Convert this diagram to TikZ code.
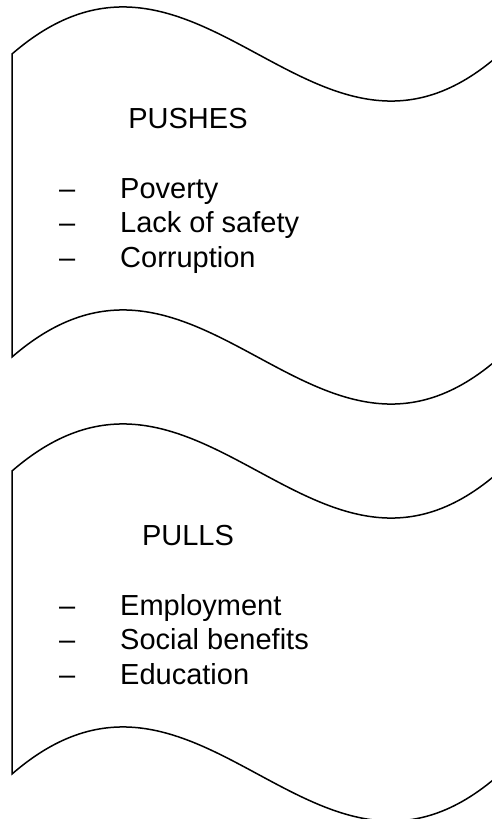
\documentclass[tikz,border=0pt]{standalone}
\usepackage{fontspec}
\setmainfont{Liberation Sans}
\usepackage{tikz}

\begin{document}
\begin{tikzpicture}[x=1pt,y=-1pt,
  banner/.style={line width=1.5pt,line join=miter},
  heading/.style={font=\fontsize{29}{34}\selectfont,anchor=base,inner sep=0pt},
  listitem/.style={font=\fontsize{29}{34}\selectfont,anchor=base west,inner sep=0pt}]
\useasboundingbox (0,0) rectangle (492,819);
\clip (0,0) rectangle (492,819);
% upper banner
\draw [banner] (12,54) .. controls (200,-109) and (316,217) .. (500,54) -- (500,357)
  .. controls (316,520) and (200,194) .. (12,357) -- cycle;
\node [heading] (pushes) at (188,128) {PUSHES};
\node [listitem] (poverty)    at (59,198.5) {\makebox[61pt][l]{\textendash}Poverty};
\node [listitem] (safety)     at (59,232.5) {\makebox[61pt][l]{\textendash}Lack of safety};
\node [listitem] (corruption) at (59,267)   {\makebox[61pt][l]{\textendash}Corruption};
% lower banner
\draw [banner] (12,471) .. controls (200,308) and (316,634) .. (500,471) -- (500,774)
  .. controls (316,937) and (200,611) .. (12,774) -- cycle;
\node [heading] (pulls) at (188,545) {PULLS};
\node [listitem] (employment) at (59,615.5) {\makebox[61pt][l]{\textendash}Employment};
\node [listitem] (benefits)   at (59,649.5) {\makebox[61pt][l]{\textendash}Social benefits};
\node [listitem] (education)  at (59,684)   {\makebox[61pt][l]{\textendash}Education};
\end{tikzpicture}
\end{document}
